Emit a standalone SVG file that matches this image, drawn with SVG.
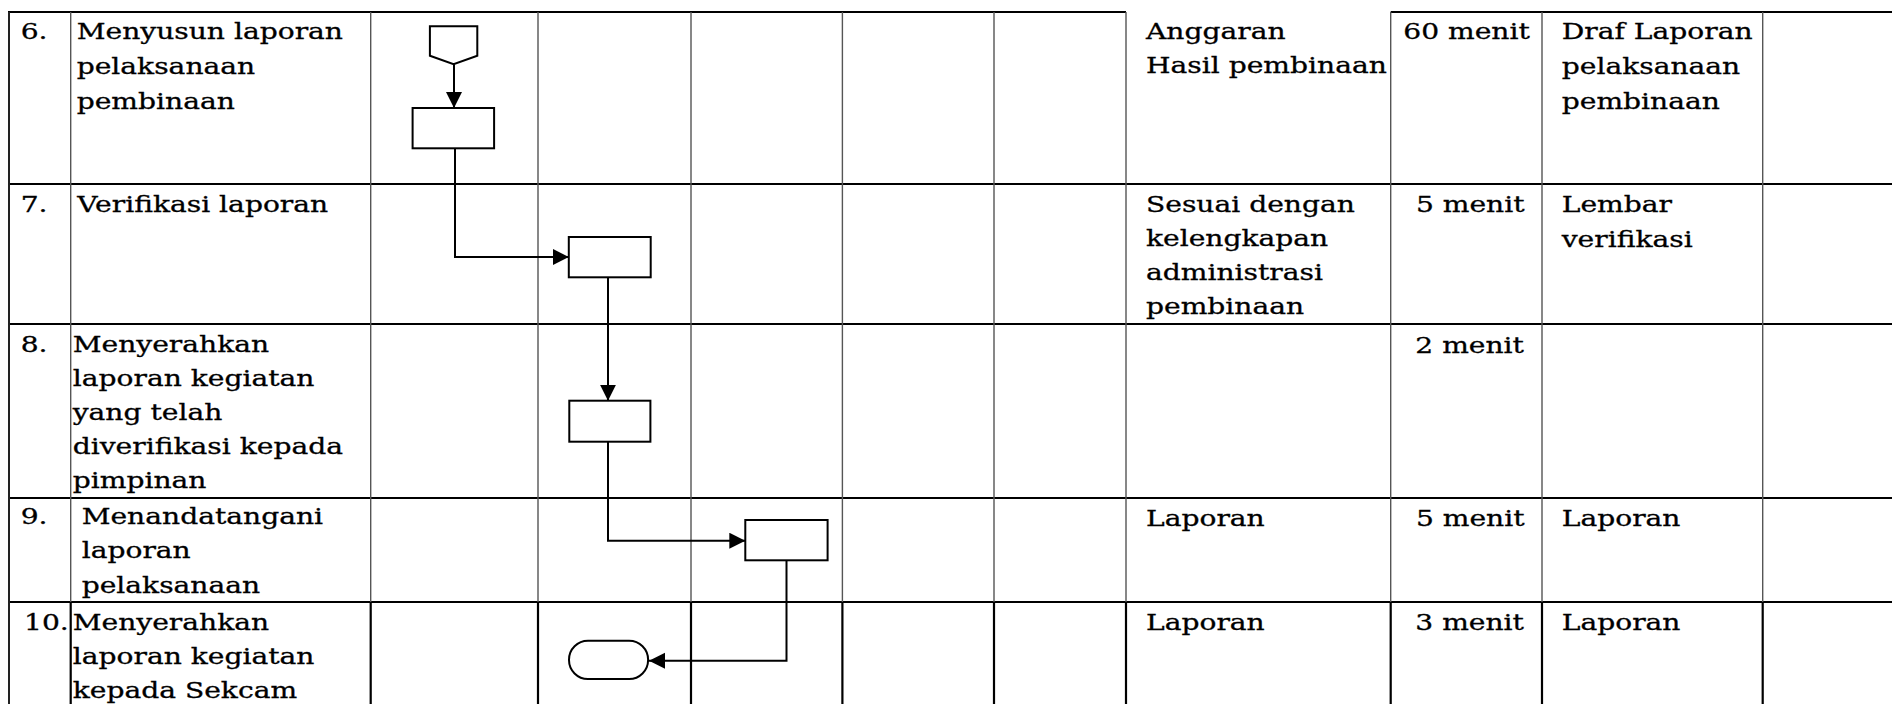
<svg xmlns="http://www.w3.org/2000/svg" width="1892" height="704" viewBox="0 0 1892 704">
<style>
.hl{stroke:#000;stroke-width:2.2;fill:none}
.vl{stroke:#555;stroke-width:1.4;fill:none}
.vb{stroke:#000;stroke-width:2.2;fill:none}
.lb{stroke:#222;stroke-width:2;fill:none}
.shape{fill:#fff;stroke:#000;stroke-width:2}
.conn{fill:none;stroke:#000;stroke-width:2}
text{font-family:"DejaVu Serif","Liberation Serif",serif;font-size:22px;fill:#000;stroke:#000;stroke-width:0.3}
</style>
<defs>
<marker id="arr" markerWidth="18" markerHeight="18" refX="16" refY="8" orient="auto" markerUnits="userSpaceOnUse"><path d="M0,0 L16,8 L0,16 Z" fill="#000"/></marker>
</defs>
<rect width="1892" height="704" fill="#fff"/>
<g id="grid">
<path class="hl" d="M8,12 H1126 M1390.7,12 H1892 M8,184 H1892 M8,324 H1892 M8,498 H1892 M8,602 H1892"/>
<path class="vl" d="M70.7,12 V602 M370.7,12 V602 M538,12 V602 M691,12 V602 M842.4,12 V602 M994,12 V602 M1126,12 V602 M1390.7,12 V602 M1542,12 V602 M1762.7,12 V602"/>
<path class="lb" d="M9,12 V704"/>
<path class="vb" d="M70.7,602 V704 M370.7,602 V704 M538,602 V704 M691,602 V704 M842.4,602 V704 M994,602 V704 M1126,602 V704 M1390.7,602 V704 M1542,602 V704 M1762.7,602 V704"/>
</g>
<g id="row6" transform="scale(1.28 1)">
<text x="16.2" y="39.3">6.</text>
<text x="59.9" y="39.3">Menyusun laporan</text>
<text x="59.9" y="74">pelaksanaan</text>
<text x="59.9" y="109">pembinaan</text>
<text x="895.3" y="39.3">Anggaran</text>
<text x="895.3" y="73.3">Hasil pembinaan</text>
<text x="1096.3" y="39.3">60 menit</text>
<text x="1220.1" y="39.3">Draf Laporan</text>
<text x="1220.1" y="74">pelaksanaan</text>
<text x="1220.1" y="109">pembinaan</text>
</g>
<g id="row7" transform="scale(1.28 1)">
<text x="16.2" y="212.5">7.</text>
<text x="60.4" y="212.5">Verifikasi laporan</text>
<text x="895.3" y="212.5">Sesuai dengan</text>
<text x="895.3" y="246.5">kelengkapan</text>
<text x="895.3" y="280.5">administrasi</text>
<text x="895.3" y="314.5">pembinaan</text>
<text x="1106.2" y="212.5">5 menit</text>
<text x="1220.1" y="212.5">Lembar</text>
<text x="1220.1" y="247">verifikasi</text>
</g>
<g id="row8" transform="scale(1.28 1)">
<text x="16.2" y="352.3">8.</text>
<text x="56.8" y="352.3">Menyerahkan</text>
<text x="56.8" y="386.3">laporan kegiatan</text>
<text x="56.8" y="420.3">yang telah</text>
<text x="56.8" y="454.3">diverifikasi kepada</text>
<text x="56.8" y="488.3">pimpinan</text>
<text x="1105.7" y="353">2 menit</text>
</g>
<g id="row9" transform="scale(1.28 1)">
<text x="16.2" y="524">9.</text>
<text x="63.8" y="524">Menandatangani</text>
<text x="63.8" y="558.5">laporan</text>
<text x="63.8" y="593">pelaksanaan</text>
<text x="895.3" y="526">Laporan</text>
<text x="1106.2" y="526">5 menit</text>
<text x="1220.1" y="526">Laporan</text>
</g>
<g id="row10" transform="scale(1.28 1)">
<text x="18.75" y="630">10.</text>
<text x="56.8" y="630">Menyerahkan</text>
<text x="56.8" y="664.3">laporan kegiatan</text>
<text x="56.8" y="698.3">kepada Sekcam</text>
<text x="895.3" y="630.5">Laporan</text>
<text x="1105.7" y="630.5">3 menit</text>
<text x="1220.1" y="630.5">Laporan</text>
</g>
<g id="connectors">
<path class="conn" d="M454,64.3 V108" marker-end="url(#arr)"/>
<path class="conn" d="M455,148.3 V257 H568.8" marker-end="url(#arr)"/>
<path class="conn" d="M608,277.3 V400.7" marker-end="url(#arr)"/>
<path class="conn" d="M608,441.7 V540.7 H745.3" marker-end="url(#arr)"/>
<path class="conn" d="M786.5,560.3 V660.7 H649" marker-end="url(#arr)"/>
</g>
<g id="start"><path class="shape" d="M429.9,26.3 H477.3 V55.7 L453.6,64.3 L429.9,55.7 Z"/></g>
<g id="step6"><rect class="shape" x="412.6" y="108" width="81.5" height="40.3"/></g>
<g id="step7"><rect class="shape" x="568.8" y="237" width="81.9" height="40.3"/></g>
<g id="step8"><rect class="shape" x="569.3" y="400.7" width="81.1" height="41"/></g>
<g id="step9"><rect class="shape" x="745.3" y="520" width="82.3" height="40.3"/></g>
<g id="end"><rect class="shape" x="569" y="640.7" width="79.1" height="38.3" rx="19" ry="19"/></g>
</svg>
